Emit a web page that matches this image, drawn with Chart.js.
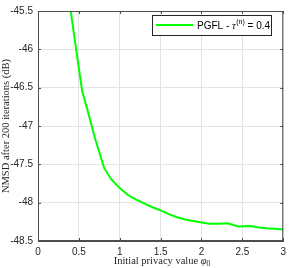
<!DOCTYPE html>
<html>
<head>
<meta charset="utf-8">
<script src="https://cdn.jsdelivr.net/npm/chart.js@4"></script>
<style>
  body { margin: 0; background: #fff; }
</style>
</head>
<body>
<canvas id="nmsdChart" width="291" height="268"></canvas>
<script>
// initial privacy value phi_0
const phiValues = [0.3, 0.4, 0.5, 0.54, 0.6, 0.7, 0.81, 0.9, 1.0, 1.1, 1.2, 1.3, 1.4, 1.5, 1.6, 1.7, 1.8, 1.9, 2.0, 2.1, 2.2, 2.32, 2.45, 2.6, 2.7, 2.8, 2.9, 3.0];
// NMSD after 200 iterations (dB)
const nmsdValues = [-44.8, -45.5, -46.25, -46.54, -46.77, -47.17, -47.55, -47.7, -47.81, -47.9, -47.96, -48.01, -48.06, -48.1, -48.15, -48.19, -48.22, -48.24, -48.26, -48.275, -48.275, -48.27, -48.31, -48.305, -48.325, -48.335, -48.34, -48.35];
const xTicks = [0, 0.5, 1, 1.5, 2, 2.5, 3];
const yTicks = [-45.5, -46, -46.5, -47, -47.5, -48, -48.5];

const axisColor = '#4d4d4d';
const tickFont = { family: 'Liberation Sans, Arial, sans-serif', size: 10 };

// box, inner tick marks, axis titles and legend drawn on top like matlab
const matlabFrame = {
    id: 'matlabFrame',
    afterDatasetsDraw(chart) {
        const ctx = chart.ctx;
        const area = chart.chartArea;
        const xs = chart.scales.x;
        const ys = chart.scales.y;
        ctx.save();
        ctx.strokeStyle = axisColor;
        ctx.lineWidth = 1;
        ctx.strokeRect(area.left + 0.5, area.top + 0.5, area.right - area.left - 1, area.bottom - area.top - 1);
        ctx.beginPath();
        xTicks.forEach(v => {
            const px = Math.round(xs.getPixelForValue(v)) + 0.5;
            ctx.moveTo(px, area.top); ctx.lineTo(px, area.top + 3);
            ctx.moveTo(px, area.bottom); ctx.lineTo(px, area.bottom - 3);
        });
        yTicks.forEach(v => {
            const py = Math.round(ys.getPixelForValue(v)) + 0.5;
            ctx.moveTo(area.left, py); ctx.lineTo(area.left + 3, py);
            ctx.moveTo(area.right, py); ctx.lineTo(area.right - 3, py);
        });
        ctx.stroke();

        // x title with subscript
        ctx.fillStyle = '#262626';
        ctx.textAlign = 'left';
        ctx.textBaseline = 'alphabetic';
        const mainFont = '10.5px "Liberation Serif", "Times New Roman", serif';
        const subFont = '7.5px "Liberation Serif", "Times New Roman", serif';
        const xt = 'Initial privacy value ';
        const phi = 'φ';
        ctx.font = 'italic ' + mainFont;
        const wPhi = ctx.measureText(phi).width;
        ctx.font = mainFont;
        const wMain = ctx.measureText(xt).width;
        ctx.font = subFont;
        const wSub = ctx.measureText('0').width;
        const x0 = 162 - (wMain + wPhi + wSub) / 2;
        const yb = 264;
        ctx.font = mainFont;
        ctx.fillText(xt, x0, yb);
        ctx.font = 'italic ' + mainFont;
        ctx.fillText(phi, x0 + wMain, yb);
        ctx.font = subFont;
        ctx.fillText('0', x0 + wMain + wPhi, yb + 2);

        // y title
        ctx.save();
        ctx.translate(1, (area.top + area.bottom) / 2);
        ctx.rotate(-Math.PI / 2);
        ctx.font = mainFont;
        ctx.textAlign = 'center';
        ctx.textBaseline = 'top';
        ctx.fillText('NMSD after 200 iterations (dB)', 0, 0);
        ctx.restore();

        // legend
        const lx = 152, ly = 15, lw = 119, lh = 20;
        ctx.fillStyle = '#ffffff';
        ctx.fillRect(lx, ly, lw, lh);
        ctx.lineWidth = 1;
        ctx.strokeStyle = '#262626';
        ctx.strokeRect(lx + 0.5, ly + 0.5, lw, lh);
        ctx.strokeStyle = '#00ff00';
        ctx.lineWidth = 2;
        ctx.beginPath();
        ctx.moveTo(156, 25); ctx.lineTo(193, 25);
        ctx.stroke();
        ctx.fillStyle = '#000000';
        ctx.textAlign = 'left';
        ctx.textBaseline = 'alphabetic';
        const sans = '10px "Liberation Sans", Arial, sans-serif';
        const sansSmall = '7px "Liberation Sans", Arial, sans-serif';
        let tx = 197;
        const tb = 29;
        ctx.font = sans;
        ctx.fillText('PGFL - ', tx, tb);
        tx += ctx.measureText('PGFL - ').width;
        ctx.font = 'italic 10.5px "Liberation Serif", serif';
        ctx.fillText('τ', tx, tb);
        tx += ctx.measureText('τ').width + 0.5;
        ctx.font = sansSmall;
        ctx.fillText('(n)', tx, tb - 5);
        tx += ctx.measureText('(n)').width;
        ctx.font = sans;
        ctx.fillText(' = 0.4', tx, tb);
        ctx.restore();
    }
};

new Chart(document.getElementById('nmsdChart'), {
    type: 'line',
    data: {
        datasets: [{
            label: 'PGFL',
            data: phiValues.map((p, i) => ({ x: p, y: nmsdValues[i] })),
            borderColor: '#00ff00',
            borderWidth: 2,
            pointRadius: 0,
            tension: 0,
            fill: false
        }]
    },
    options: {
        responsive: false,
        animation: false,
        layout: { padding: { top: 5, right: 7, left: 0, bottom: 0 } },
        plugins: {
            legend: { display: false },
            tooltip: { enabled: false }
        },
        scales: {
            x: {
                type: 'linear',
                min: 0,
                max: 3,
                afterFit: s => { s.height = 27; },
                afterBuildTicks: s => { s.ticks = xTicks.map(v => ({ value: v })); },
                grid: { color: '#e3e3e3', drawTicks: false },
                border: { color: axisColor },
                ticks: { color: '#262626', font: tickFont, padding: 5, maxRotation: 0, callback: v => String(v) }
            },
            y: {
                type: 'linear',
                min: -48.5,
                max: -45.5,
                afterFit: s => { s.width = 38; },
                afterBuildTicks: s => { s.ticks = yTicks.map(v => ({ value: v })); },
                grid: { color: '#e3e3e3', drawTicks: false },
                border: { color: axisColor },
                ticks: { color: '#262626', font: tickFont, padding: 5, callback: v => String(v) }
            }
        }
    },
    plugins: [matlabFrame]
});
</script>
</body>
</html>
